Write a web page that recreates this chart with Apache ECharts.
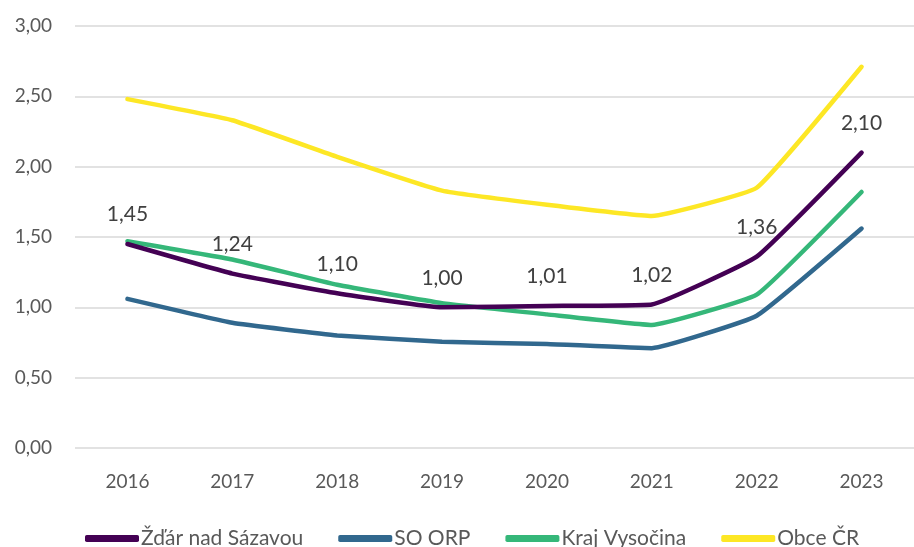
<!DOCTYPE html>
<html>
<head>
<meta charset="utf-8">
<script src="https://cdn.jsdelivr.net/npm/echarts@6/dist/echarts.min.js"></script>
<style>
  html, body { margin: 0; padding: 0; background: #fff; }
  #main { width: 914px; height: 547px; }
</style>
</head>
<body>
<div id="main"></div>
<script>
// roky
const years = ['2016', '2017', '2018', '2019', '2020', '2021', '2022', '2023']
const yTicks = [0, 0.5, 1, 1.5, 2, 2.5, 3]

const zdar = [1.45, 1.24, 1.10, 1.00, 1.01, 1.02, 1.36, 2.10]
const soOrp = [1.06, 0.89, 0.80, 0.755, 0.74, 0.71, 0.94, 1.56]
const krajVys = [1.47, 1.34, 1.16, 1.03, 0.95, 0.875, 1.09, 1.82]
const obceCr = [2.48, 2.33, 2.07, 1.83, 1.73, 1.65, 1.85, 2.71]

const fmt = v => v.toFixed(2).replace('.', ',')
const font = 'Lato, "Open Sans", sans-serif'

var myChart = echarts.init(document.getElementById('main'))

function line(name, data, color, labels) {
  return {
    name: name,
    type: 'line',
    data: data,
    smooth: 0.1,
    symbol: 'circle',
    symbolSize: 0,
    showSymbol: true,
    lineStyle: { color: color, width: 4.5, cap: 'round', join: 'round' },
    itemStyle: { color: color },
    label: labels ? {
      show: true,
      position: 'top',
      distance: 19,
      color: '#404040',
      fontSize: 21,
      fontFamily: font,
      formatter: p => fmt(p.value)
    } : { show: false },
    z: labels ? 5 : 2
  }
}

myChart.setOption({
  animation: false,
  grid: { left: 75, top: 26, width: 848, height: 422 },
  legend: {
    top: 523,
    left: 80,
    icon: 'roundRect',
    itemWidth: 54,
    itemHeight: 7,
    itemGap: 35,
    textStyle: { color: '#595959', fontSize: 21, fontFamily: font, padding: [0, 0, 0, -3] },
    data: ['Žďár nad Sázavou', 'SO ORP', 'Kraj Vysočina', 'Obce ČR']
  },
  xAxis: {
    type: 'category',
    data: years,
    boundaryGap: true,
    axisLine: { show: false },
    axisTick: { show: false },
    axisLabel: { color: '#595959', fontSize: 19, fontFamily: font, margin: 24 }
  },
  yAxis: {
    type: 'value',
    min: yTicks[0],
    max: yTicks[yTicks.length - 1],
    interval: 0.5,
    axisLine: { show: false },
    axisTick: { show: false },
    splitLine: { lineStyle: { color: '#d9d9d9', width: 1.5 } },
    axisLabel: { color: '#595959', fontSize: 19, fontFamily: font, margin: 23, formatter: v => fmt(v) }
  },
  series: [
    line('Žďár nad Sázavou', zdar, '#440154', true),
    line('SO ORP', soOrp, '#31688e', false),
    line('Kraj Vysočina', krajVys, '#35b779', false),
    line('Obce ČR', obceCr, '#fde725', false)
  ]
})
</script>
</body>
</html>
